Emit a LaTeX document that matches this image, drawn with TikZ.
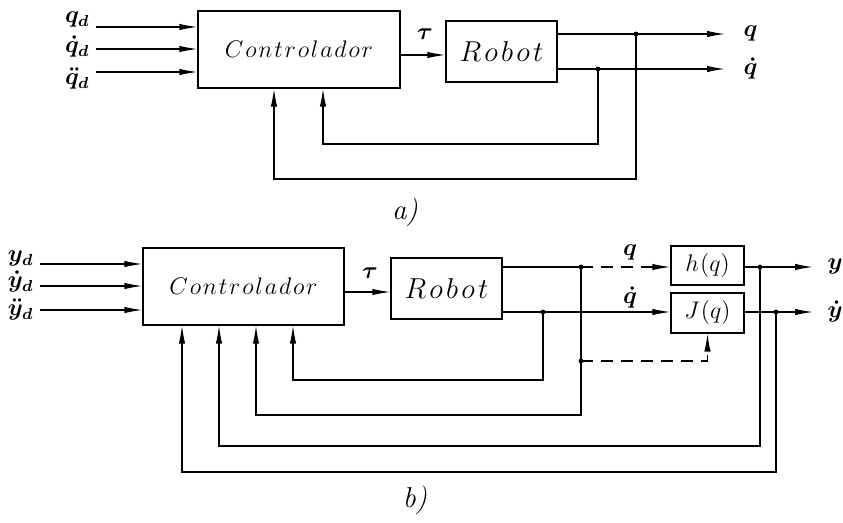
\documentclass[tikz,border=0pt]{standalone}
\usetikzlibrary{arrows.meta,calc,positioning}
\newcommand{\lsp}{\mkern1.4mu}
\newcommand{\Ctl}{\large$C\lsp o\lsp n\lsp t\lsp r\lsp o\lsp l\lsp a\lsp d\lsp o\lsp r$}
\newcommand{\Rob}{\Large$R\mkern2mu o\mkern2mu b\mkern2mu o\mkern2mu t$}
\tikzset{blk/.style={draw,inner sep=0pt},>={Latex[length=9pt,width=3.2pt]}}
\tikzset{jn/.style={circle,fill,inner sep=0pt,minimum size=2.4pt}}
\tikzset{dsh/.style={dash pattern=on 6pt off 4pt}}
\tikzset{lbl/.style={inner sep=0pt,font=\large\boldmath}}

\begin{document}
\begin{tikzpicture}[x=.5pt,y=-.5pt,line width=.6pt]
\useasboundingbox (0,0) rectangle (843,523);
% a)
\node[blk,minimum width=101pt,minimum height=38.5pt](ctlA) at (299,49.5){\Ctl};
\node[blk,minimum width=55.5pt,minimum height=30.5pt](robA) at (501.5,51.5){\Rob};
\coordinate (iA1) at (96,27);\coordinate (iA2) at (96,49);\coordinate (iA3) at (96,72);
\draw[->](iA1)--(iA1-|ctlA.west);\draw[->](iA2)--(iA2-|ctlA.west);\draw[->](iA3)--(iA3-|ctlA.west);
\node[lbl,anchor=east](qdA) at (90,20){$q_d$};
\node[lbl,anchor=east](qddA) at (90,47){$\dot q_d$};
\node[lbl,anchor=east](qdddA) at (90,79){$\ddot q_d$};
\coordinate (tA) at (400,55);
\draw[->](tA)--(tA-|robA.west);
\node[lbl](tauA) at (425,34){$\tau$};
\coordinate (jqA) at (636,34);\coordinate (jdA) at (598,69);
\coordinate (oqA) at (725,34);\coordinate (odA) at (725,69);
\draw[->](robA.east|-jqA)--(oqA);\draw[->](robA.east|-jdA)--(odA);
\node[lbl,right=9pt of oqA](qA){$q$};\node[lbl,right=9pt of odA](qdotA){$\dot q$};
\coordinate (fbA1) at (323,144);\coordinate (fbA2) at (274,179);
\draw[->](jdA)|-(fbA1)--(fbA1|-ctlA.south);
\draw[->](jqA)|-(fbA2)--(fbA2|-ctlA.south);
\node[jn] at (jqA){};\node[jn] at (jdA){};
\node(labA) at (405,212){\Large\textit{a)}};
% b)
\node[blk,minimum width=100.5pt,minimum height=38.5pt](ctlB) at (243.5,286.5){\Ctl};
\node[blk,minimum width=55.5pt,minimum height=30.5pt](robB) at (446.5,288.5){\Rob};
\node[blk,minimum width=36.5pt,minimum height=19.5pt](hB) at (707.5,265.5){\large$h\mkern1mu(q)$};
\node[blk,minimum width=36.5pt,minimum height=20pt](JB) at (707.5,313){\large$J\mkern1mu(q)$};
\coordinate (iB1) at (40,264);\coordinate (iB2) at (40,286);\coordinate (iB3) at (40,310);
\draw[->](iB1)--(iB1-|ctlB.west);\draw[->](iB2)--(iB2-|ctlB.west);\draw[->](iB3)--(iB3-|ctlB.west);
\node[lbl,anchor=east](ydB) at (34,259){$y_d$};
\node[lbl,anchor=east](yddB) at (34,282){$\dot y_d$};
\node[lbl,anchor=east](ydddB) at (34,310){$\ddot y_d$};
\coordinate (tB) at (344,292);
\draw[->](tB)--(tB-|robB.west);
\node[lbl](tauB) at (370,273){$\tau$};
\coordinate (jqB) at (581,267);\coordinate (jdB) at (543,312);
\coordinate (jyB) at (760,267);\coordinate (jydB) at (776,312);
\coordinate (jsB) at (581,361);
\draw(robB.east|-jqB)--(jqB);\draw[->,dsh](jqB)--(jqB-|hB.west);
\draw[->](robB.east|-jdB)--(jdB-|JB.west);
\node[lbl](qB) at (630,253){$q$};\node[lbl](qdotB) at (630,298){$\dot q$};
\draw[->,dsh](jsB)-|(JB.south);
\coordinate (oyB) at (813,267);\coordinate (odB) at (813,312);
\draw[->](hB.east|-jyB)--(oyB);\draw[->](JB.east|-jydB)--(odB);
\node[lbl,right=7pt of oyB](yB){$y$};\node[lbl,right=7pt of odB](ydotB){$\dot y$};
\coordinate (fbB1) at (293,380);\coordinate (fbB2) at (256,415);
\coordinate (fbB3) at (219,446);\coordinate (fbB4) at (182,472);
\draw[->](jdB)|-(fbB1)--(fbB1|-ctlB.south);
\draw[->](jqB)|-(fbB2)--(fbB2|-ctlB.south);
\draw[->](jyB)|-(fbB3)--(fbB3|-ctlB.south);
\draw[->](jydB)|-(fbB4)--(fbB4|-ctlB.south);
\foreach \j in {jqB,jdB,jyB,jydB,jsB}{\node[jn] at (\j){};}
\node(labB) at (415,500){\Large\textit{b)}};
\end{tikzpicture}
\end{document}
